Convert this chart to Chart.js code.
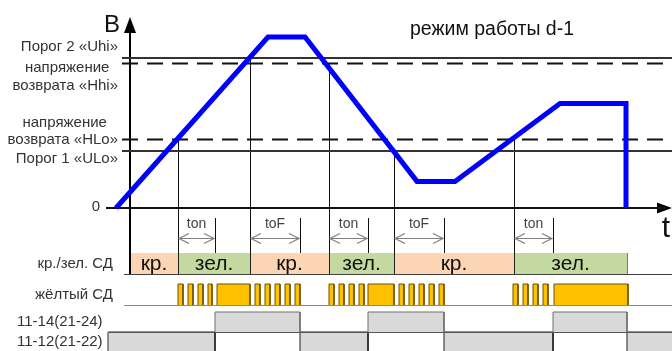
<!DOCTYPE html>
<html><head><meta charset="utf-8">
<script src="https://cdn.jsdelivr.net/npm/chart.js@4/dist/chart.umd.min.js"></script>
<style>html,body{margin:0;padding:0;background:#fff}canvas{display:block}</style>
</head><body>
<canvas id="c" width="672" height="351"></canvas>
<script>
// ---------------- data (time in arbitrary units, voltage in arbitrary units) ----------------
const voltageTimes  = [-1.4, 13.8, 17.5, 28.7, 32.5, 43.0, 49.6, 49.6];
const voltageValues = [0, 9.0, 9.0, 1.4, 1.4, 5.5, 5.5, 0];

const thresholdNames  = ['Uhi', 'Hhi', 'HLo', 'ULo'];
const thresholdValues = [7.9, 7.6, 3.6, 3.0];
const thresholdLabels = [['Порог 2 «Uhi»'], ['напряжение', 'возврата «Hhi»'], ['напряжение', 'возврата «HLo»'], ['Порог 1 «ULo»']];

const eventTimes  = [4.8, 12.0, 19.9, 26.4, 38.4];
const eventLevels = [3.6, 7.9, 7.6, 3.0, 3.6];
const delayEnds   = [8.5, 17.0, 23.8, 31.4, 42.3];
const delayLabels = ['ton', 'toF', 'ton', 'toF', 'ton'];

const ledStarts = [0, 4.8, 12.0, 19.9, 26.4, 38.4];
const ledEnds   = [4.8, 12.0, 19.9, 26.4, 38.4, 49.7];
const ledStates = ['кр.', 'зел.', 'кр.', 'зел.', 'кр.', 'зел.'];

const yellowOn  = [4.8, 5.8, 6.8, 7.8, 8.7, 12.5, 13.5, 14.5, 15.5, 16.5, 19.9, 20.9, 21.9, 22.9, 23.8, 26.9, 27.9, 28.9, 29.9, 30.9, 38.3, 39.3, 40.3, 41.3, 42.4];
const yellowOff = [5.3, 6.3, 7.3, 8.2, 12.0, 13.0, 14.0, 15.0, 16.0, 17.0, 20.4, 21.4, 22.4, 23.4, 26.4, 27.4, 28.4, 29.4, 30.4, 31.4, 38.8, 39.8, 40.8, 41.8, 49.8];

const relay14On  = [8.5, 23.8, 42.3];
const relay14Off = [17.0, 31.4, 49.7];
const relay12On  = [-2.2, 17.0, 31.4, 49.7];
const relay12Off = [8.5, 23.8, 42.3, 56];

const rowLabels = ['кр./зел. СД', 'жёлтый СД', '11-14(21-24)', '11-12(21-22)'];
const title = 'режим работы d-1';

// ---------------- layout (lane axis = layout units) ----------------
const ROW = {
  led:    {top: 253, bottom: 274},
  yellow: {top: 284, bottom: 305},
  r14:    {top: 312, bottom: 332},
  r12:    {top: 332, bottom: 362},
  delayTop: 218, arrowY: 238, labelY: 224
};
const FONT = '"Liberation Sans", Arial, sans-serif';

function rects(starts, ends, lo, hi) {
  const pts = [];
  for (let i = 0; i < starts.length; i++) {
    pts.push({x: starts[i], y: lo}, {x: starts[i], y: hi}, {x: ends[i], y: hi}, {x: ends[i], y: lo});
  }
  return pts;
}
function hideBase(lo) {
  return { borderColor: c => (c.p0.parsed.y === lo && c.p1.parsed.y === lo) ? 'rgba(0,0,0,0)' : undefined };
}

const datasets = [];
// voltage
datasets.push({
  data: voltageTimes.map((t, i) => ({x: t, y: voltageValues[i]})),
  yAxisID: 'y', borderColor: '#0000FF', borderWidth: 5, borderJoinStyle: 'miter', borderCapStyle: 'butt', order: 0, fill: false
});
// thresholds
thresholdValues.forEach((v, i) => {
  const dashed = thresholdNames[i].startsWith('H');
  datasets.push({
    data: [{x: -0.8, y: v}, {x: 54.2, y: v}], yAxisID: 'y',
    borderColor: dashed ? '#111' : '#333', borderWidth: 2, borderDash: dashed ? [16, 9] : [], order: 5, fill: false
  });
});
// zero line
datasets.push({data: [{x: -2.4, y: 0}, {x: 53.6, y: 0}], yAxisID: 'y', borderColor: '#111', borderWidth: 2, order: 4, fill: false});
// LED red/green
const redIdx = ledStates.map((s, i) => s === 'кр.' ? i : -1).filter(i => i >= 0);
const grnIdx = ledStates.map((s, i) => s !== 'кр.' ? i : -1).filter(i => i >= 0);
datasets.push({data: rects(redIdx.map(i => ledStarts[i]), redIdx.map(i => ledEnds[i]), ROW.led.bottom, ROW.led.top),
  yAxisID: 'lane', borderWidth: 0, borderColor: 'rgba(0,0,0,0)', backgroundColor: '#FCD5B5', fill: {value: ROW.led.bottom}, order: 10});
datasets.push({data: rects(grnIdx.map(i => ledStarts[i]), grnIdx.map(i => ledEnds[i]), ROW.led.bottom, ROW.led.top),
  yAxisID: 'lane', borderWidth: 0, borderColor: 'rgba(0,0,0,0)', backgroundColor: '#C4D99F', fill: {value: ROW.led.bottom}, order: 10});
// yellow LED
datasets.push({data: rects(yellowOn, yellowOff, ROW.yellow.bottom, ROW.yellow.top),
  yAxisID: 'lane', borderWidth: 1, borderColor: '#6b5200', backgroundColor: '#FFC000', fill: {value: ROW.yellow.bottom},
  segment: hideBase(ROW.yellow.bottom), order: 10});
// relay 11-14
datasets.push({data: rects(relay14On, relay14Off, ROW.r14.bottom, ROW.r14.top),
  yAxisID: 'lane', borderWidth: 1, borderColor: '#6f6f6f', backgroundColor: '#D9D9D9', fill: {value: ROW.r14.bottom},
  segment: hideBase(ROW.r14.bottom), order: 10});
// relay 11-12
datasets.push({data: rects(relay12On, relay12Off, ROW.r12.bottom, ROW.r12.top),
  yAxisID: 'lane', borderWidth: 1, borderColor: '#222', backgroundColor: '#D9D9D9', fill: {value: ROW.r12.bottom},
  segment: hideBase(ROW.r12.bottom), order: 10});

function seg(ctx, x1, y1, x2, y2) { ctx.beginPath(); ctx.moveTo(x1, y1); ctx.lineTo(x2, y2); ctx.stroke(); }
const crisp = p => Math.round(p) + 0.5;

const decor = {
  id: 'decor',
  beforeDatasetsDraw(chart) {
    const {ctx, scales: {x, y, lane}} = chart;
    const X = t => x.getPixelForValue(t), Y = v => y.getPixelForValue(v), L = p => lane.getPixelForValue(p);
    ctx.save();
    ctx.strokeStyle = '#111'; ctx.lineWidth = 1;
    eventTimes.forEach((t, i) => { const px = crisp(X(t)); seg(ctx, px, Y(eventLevels[i]), px, L(ROW.led.bottom)); });
    delayEnds.forEach(t => { const px = crisp(X(t)); seg(ctx, px, L(ROW.delayTop), px, L(ROW.led.top)); });
    // y axis
    const ax = X(0);
    ctx.lineWidth = 2; ctx.strokeStyle = '#000';
    seg(ctx, ax, L(ROW.led.bottom), ax, 28);
    ctx.fillStyle = '#000';
    ctx.beginPath(); ctx.moveTo(ax, 17); ctx.lineTo(ax - 6, 33); ctx.lineTo(ax + 6, 33); ctx.closePath(); ctx.fill();
    // x axis arrowhead
    const zy = Y(0);
    ctx.beginPath(); ctx.moveTo(672, zy); ctx.lineTo(657, zy - 5.5); ctx.lineTo(657, zy + 5.5); ctx.closePath(); ctx.fill();
    // delay arrows
    ctx.strokeStyle = '#808080'; ctx.lineWidth = 1.2;
    const ay = crisp(L(ROW.arrowY));
    eventTimes.forEach((t, i) => {
      const a = X(t) + 1, b = X(delayEnds[i]) - 1;
      seg(ctx, a, ay, b, ay);
      ctx.beginPath(); ctx.moveTo(a + 10, ay - 5); ctx.lineTo(a, ay); ctx.lineTo(a + 10, ay + 5); ctx.stroke();
      ctx.beginPath(); ctx.moveTo(b - 10, ay - 5); ctx.lineTo(b, ay); ctx.lineTo(b - 10, ay + 5); ctx.stroke();
    });
    ctx.restore();
  },
  afterDatasetsDraw(chart) {
    const {ctx, scales: {x, y, lane}} = chart;
    const X = t => x.getPixelForValue(t), Y = v => y.getPixelForValue(v), L = p => lane.getPixelForValue(p);
    ctx.save();
    // marker lines through LED bar
    ctx.strokeStyle = '#222'; ctx.lineWidth = 1;
    eventTimes.forEach(t => { const px = crisp(X(t)); seg(ctx, px, L(ROW.led.top), px, L(ROW.led.bottom)); });
    const endPx = crisp(X(ledEnds[ledEnds.length - 1]));
    ctx.strokeStyle = '#777';
    seg(ctx, endPx, L(ROW.led.top), endPx, L(ROW.led.bottom));
    ctx.lineWidth = 2; ctx.strokeStyle = '#000';
    seg(ctx, X(0), L(ROW.led.top), X(0), L(ROW.led.bottom));
    // baselines
    ctx.lineWidth = 1;
    ctx.strokeStyle = '#404040'; seg(ctx, 124, crisp(L(ROW.led.bottom)), 672, crisp(L(ROW.led.bottom)));
    ctx.strokeStyle = '#8a8a8a'; seg(ctx, 124, crisp(L(ROW.yellow.bottom)), 672, crisp(L(ROW.yellow.bottom)));
    ctx.strokeStyle = '#555'; seg(ctx, X(relay12On[0]), crisp(L(ROW.r14.bottom)), 672, crisp(L(ROW.r14.bottom)));
    ctx.strokeStyle = '#888'; seg(ctx, crisp(X(relay12On[0])), L(ROW.r12.top), crisp(X(relay12On[0])), 351);

    // texts
    ctx.textBaseline = 'middle';
    ctx.fillStyle = '#333';
    ctx.font = '15px ' + FONT;
    const rx = 118;
    const lblY = {Uhi: [47], Hhi: [68, 86], HLo: [123, 140], ULo: [159]};
    thresholdNames.forEach((n, i) => {
      const lines = thresholdLabels[i];
      const last = lines[lines.length - 1];
      const w = ctx.measureText(last).width;
      lines.forEach((s, k) => {
        if (k === lines.length - 1) { ctx.textAlign = 'right'; ctx.fillText(s, rx, lblY[n][k]); }
        else { ctx.textAlign = 'center'; ctx.fillText(s, rx - w / 2 + 2, lblY[n][k]); }
      });
    });
    ctx.textAlign = 'right';
    ctx.fillText('0', 100, Y(0) - 1);
    ctx.fillText(rowLabels[0], 113, 264);
    ctx.fillText(rowLabels[1], 113, 295);
    ctx.textAlign = 'left';
    ctx.fillText(rowLabels[2], 17, 322);
    ctx.fillText(rowLabels[3], 17, 342);
    // axis letters
    ctx.fillStyle = '#111';
    ctx.textAlign = 'center';
    ctx.font = '24px ' + FONT;
    ctx.fillText('B', 112, 25);
    ctx.font = '30px ' + FONT;
    ctx.fillText('t', 666, 229);
    // title
    ctx.font = '19.5px ' + FONT;
    ctx.textAlign = 'left';
    ctx.fillText(title, 410, 30);
    // delay labels
    ctx.fillStyle = '#444';
    ctx.font = '14px ' + FONT;
    ctx.textAlign = 'center';
    eventTimes.forEach((t, i) => ctx.fillText(delayLabels[i], (X(t) + X(delayEnds[i])) / 2, L(ROW.labelY)));
    // LED state labels
    ctx.fillStyle = '#111';
    ctx.font = '21px ' + FONT;
    ledStates.forEach((s, i) => {
      const a = Math.max(X(ledStarts[i]), X(0));
      ctx.fillText(s, (a + X(ledEnds[i])) / 2, (L(ROW.led.top) + L(ROW.led.bottom)) / 2 + 1);
    });
    ctx.restore();
  }
};

new Chart(document.getElementById('c'), {
  type: 'line',
  data: {datasets},
  options: {
    responsive: false, animation: false, devicePixelRatio: 1,
    layout: {padding: 0},
    elements: {point: {radius: 0, hoverRadius: 0}, line: {tension: 0}},
    plugins: {legend: {display: false}, tooltip: {enabled: false}},
    events: [],
    scales: {
      x: {type: 'linear', min: -13, max: 54.2, display: false},
      y: {type: 'linear', min: (208 - 351) / 19, max: 208 / 19, display: false},
      lane: {type: 'linear', min: 0, max: 351, reverse: true, display: false}
    }
  },
  plugins: [decor]
});
</script>
</body></html>
